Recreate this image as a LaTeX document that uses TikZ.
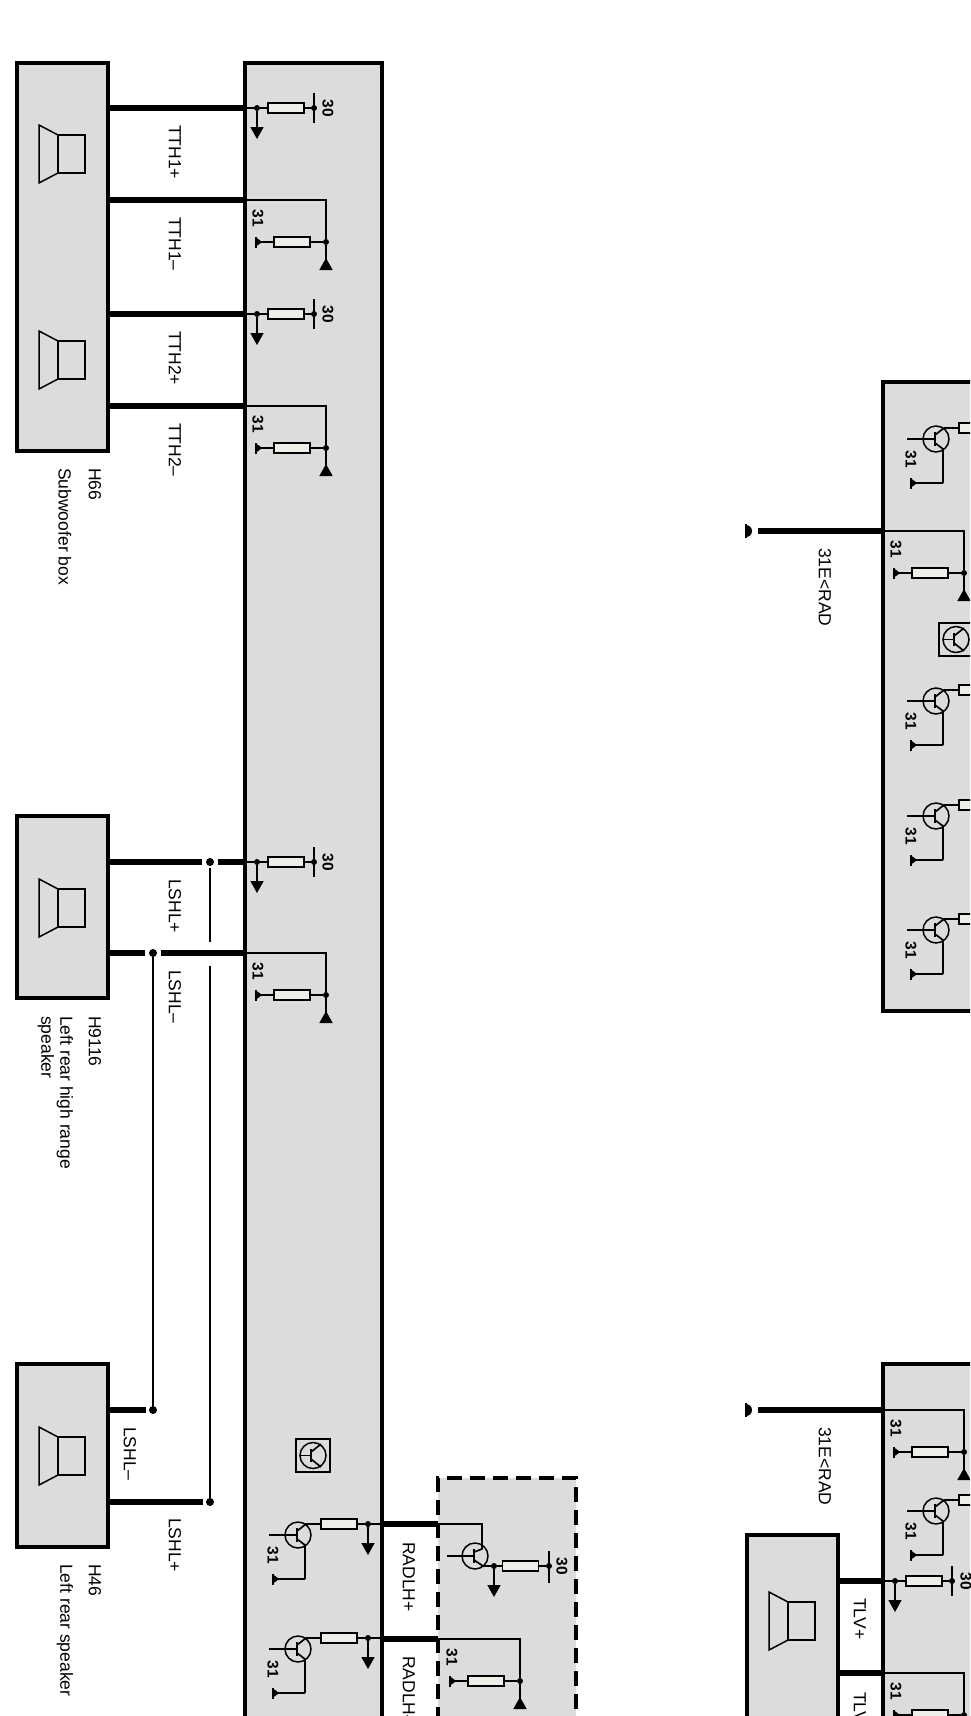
\documentclass[tikz,border=0pt]{standalone}
\usepackage{fontspec}
\setmainfont{Liberation Sans}
\usetikzlibrary{arrows.meta}
\definecolor{panel}{HTML}{DCDCDC}
\definecolor{resfill}{HTML}{EEEEE8}
\tikzset{
  devbox/.style={draw,fill=panel,line width=3.6pt,rectangle,inner sep=0pt,outer sep=0pt,anchor=north west},
  dashbox/.style={devbox,dash pattern=on 15pt off 8pt},
  wire/.style={line width=6.2pt},
  thinw/.style={line width=1.7pt},
  resist/.style={draw,fill=resfill,line width=1.5pt,rectangle,minimum width=36pt,minimum height=10pt,inner sep=0pt,outer sep=0pt},
  dot/.style={circle,fill=black,minimum size=6pt,inner sep=0pt,outer sep=0pt},
  bigdot/.style={circle,fill=black,minimum size=8pt,inner sep=0pt,outer sep=0pt},
  tcirc/.style={circle,draw,line width=1.5pt,minimum size=26pt,inner sep=0pt,outer sep=0pt},
  lbl/.style={rotate=-90,anchor=west,inner sep=0pt,font=\fontsize{17.5}{19}\selectfont},
  pinlbl/.style={rotate=-90,inner sep=0pt,font=\fontsize{15.5}{15.5}\selectfont\bfseries},
  arrdown/.style={thinw,-{Triangle[width=13pt,length=12pt]}},
  arrup/.style={thinw,-{Triangle[width=13pt,length=12pt,reversed]}},
  gndtip/.style={thinw,-{Triangle[length=5pt,width=7pt,reversed]Bar[width=11pt,line width=2.2pt]}}
}
% speaker: name, left of box, centre y
\newcommand{\speaker}[3]{
  \begin{scope}[shift={(#2,#3)}]
    \draw[line width=1.5pt] (22,-29) -- (22,29) -- (41,19) -- (41,-19) -- cycle;
    \draw[line width=1.5pt] (41,-19) rectangle (68,19);
  \end{scope}
}
% plus feed: name, box edge, wire y
\newcommand{\feedpos}[3]{
  \begin{scope}[shift={(#2,#3)}]
    \coordinate (#1a) at (0,0);
    \node[dot] (#1j) at (12,0) {};
    \node[resist] (#1r) at (41,0) {};
    \node[dot] (#1k) at (69,0) {};
    \coordinate (#1t) at (12,31);
    \coordinate (#1u) at (69,-15);
    \coordinate (#1v) at (69,15);
    \draw[thinw] (#1a) -- (#1j) -- (#1r) -- (#1k);
    \draw[arrdown] (#1j) -- (#1t);
    \draw[thinw] (#1u) -- (#1v);
    \node[pinlbl] (#1l) at (83,0) {30};
  \end{scope}
}
% minus feed: name, box edge, wire y
\newcommand{\feedneg}[3]{
  \begin{scope}[shift={(#2,#3)}]
    \coordinate (#1a) at (0,0);
    \coordinate (#1c) at (81,0);
    \node[dot] (#1j) at (81,42) {};
    \node[resist] (#1r) at (47,42) {};
    \coordinate (#1g) at (10,42);
    \coordinate (#1b) at (81,70);
    \draw[thinw] (#1a) -- (#1c) -- (#1j);
    \draw[arrup] (#1j) -- (#1b);
    \draw[thinw] (#1j) -- (#1r);
    \draw[gndtip] (#1r) -- (#1g);
    \node[pinlbl] (#1l) at (13,18) {31};
  \end{scope}
}
% driver transistor: name, centre x, centre y
\newcommand{\trans}[3]{
  \begin{scope}[shift={(#2,#3)}]
    \node[tcirc] (#1o) at (0,0) {};
    \coordinate (#1s) at (-29,0);
    \coordinate (#1m) at (-1,0);
    \coordinate (#1cc) at (8,-11);
    \coordinate (#1e) at (7,10);
    \coordinate (#1f) at (7,44);
    \coordinate (#1g) at (-26,44);
    \node[resist] (#1r) at (41,-11) {};
    \node[dot] (#1j) at (70,-11) {};
    \coordinate (#1a) at (84,-11);
    \coordinate (#1t) at (70,20);
    \draw[thinw] (#1s) -- (#1m);
    \draw[line width=2pt] (-1,-7) -- (-1,7);
    \draw[thinw] (-1,-4) -- (#1cc) -- (#1r) -- (#1j) -- (#1a);
    \draw[thinw] (-1,4) -- (#1e) -- (#1f);
    \draw[gndtip] (#1f) -- (#1g);
    \draw[arrdown] (#1j) -- (#1t);
    \node[pinlbl] (#1l) at (-25,20) {31};
  \end{scope}
}
% chip sign: name, left, top
\newcommand{\chipsign}[3]{
  \begin{scope}[shift={(#2,#3)}]
    \draw[line width=1.8pt] (0,0) rectangle (34,33);
    \node[tcirc] (#1o) at (17,16.5) {};
    \coordinate (#1s) at (4,16.5);
    \coordinate (#1m) at (15,16.5);
    \draw[thinw] (#1s) -- (#1m);
    \draw[line width=2pt] (15,10) -- (15,23);
    \draw[thinw] (15,13) -- (25,5);
    \draw[thinw] (15,20) -- (25,28);
  \end{scope}
}
% loose earth end: name, x, y
\newcommand{\termin}[3]{
  \coordinate (#1) at (#2,#3);
  \draw[line width=2.4pt] (#2,#3-7) -- (#2,#3+7);
  \fill (#2,#3-6) arc[start angle=90,end angle=-90,radius=6pt] -- cycle;
}
\begin{document}
\begin{tikzpicture}[x=1pt,y=-1pt]
\path[use as bounding box,clip] (0,0) rectangle (970,1716);

\node[devbox,minimum width=137pt,minimum height=1700pt] (ctrl) at (245,63) {};
\node[devbox,minimum width=91pt,minimum height=388pt] (h66) at (17,63) {};
\node[devbox,minimum width=91pt,minimum height=182pt] (h9116) at (17,816) {};
\node[devbox,minimum width=91pt,minimum height=183pt] (h46) at (17,1364) {};
\node[dashbox,minimum width=138pt,minimum height=300pt] (amp) at (438,1478) {};
\node[devbox,minimum width=200pt,minimum height=629pt] (ctrlb) at (883,382) {};
\node[devbox,minimum width=200pt,minimum height=500pt] (ctrlc) at (883,1364) {};
\node[devbox,minimum width=91pt,minimum height=300pt] (tlv) at (747,1535) {};

\speaker{s1}{17}{154}
\speaker{s2}{17}{360}
\speaker{s3}{17}{908}
\speaker{s4}{17}{1456}
\speaker{s5}{747}{1621}

% subwoofer lines
\draw[wire] (h66.east |- 0,108) -- (ctrl.west |- 0,108);
\draw[wire] (h66.east |- 0,200) -- (ctrl.west |- 0,200);
\draw[wire] (h66.east |- 0,314) -- (ctrl.west |- 0,314);
\draw[wire] (h66.east |- 0,406) -- (ctrl.west |- 0,406);

% rear speaker lines
\node[bigdot] (d1) at (210,862) {};
\node[bigdot] (d2) at (153,953) {};
\node[bigdot] (d3) at (153,1410) {};
\node[bigdot] (d4) at (210,1502) {};
\coordinate (d1e) at (210,942);
\coordinate (d4e) at (210,966);
\draw[wire,shorten >=4pt] (h9116.east |- 0,862) -- (d1);
\draw[wire,shorten <=4pt] (d1) -- (ctrl.west |- 0,862);
\draw[wire,shorten >=4pt] (h9116.east |- 0,953) -- (d2);
\draw[wire,shorten <=4pt] (d2) -- (ctrl.west |- 0,953);
\draw[wire,shorten >=3pt] (h46.east |- 0,1410) -- (d3);
\draw[wire,shorten >=3pt] (h46.east |- 0,1502) -- (d4);
\draw[thinw,shorten <=2pt] (d1) -- (d1e);
\draw[thinw] (d4e) -- (d4);
\draw[thinw] (d2) -- (d3);

% amp lines
\draw[wire] (ctrl.east |- 0,1524) -- (amp.west |- 0,1524);
\draw[wire] (ctrl.east |- 0,1639) -- (amp.west |- 0,1639);

% earth lines
\termin{e1}{746}{531}
\termin{e2}{746}{1410}
\coordinate (e1b) at (758,531);
\coordinate (e2b) at (758,1410);
\draw[wire] (e1b) -- (ctrlb.west |- e1b);
\draw[wire] (e2b) -- (ctrlc.west |- e2b);

% tlv lines
\draw[wire] (tlv.east |- 0,1581) -- (ctrlc.west |- 0,1581);
\draw[wire] (tlv.east |- 0,1673) -- (ctrlc.west |- 0,1673);

\feedpos{fa}{245}{108}
\feedneg{fb}{245}{200}
\feedpos{fc}{245}{314}
\feedneg{fd}{245}{406}
\feedpos{fe}{245}{862}
\feedneg{ff}{245}{953}
\chipsign{ca}{296}{1439}
\trans{ta}{298}{1535}
\trans{tb}{298}{1649}

% inside the amp
\node[tcirc] (ac) at (475,1556) {};
\coordinate (ac1) at (438,1524);
\coordinate (ac2) at (482,1524);
\coordinate (ac3) at (482,1549);
\coordinate (ac4) at (447,1556);
\coordinate (ac5) at (474,1556);
\coordinate (ac6) at (483,1566);
\node[dot] (aj) at (494,1566) {};
\node[resist] (ar) at (520.5,1566) {};
\node[dot] (ak) at (549,1566) {};
\coordinate (at) at (494,1597);
\coordinate (au) at (549,1551);
\coordinate (av) at (549,1583);
\draw[thinw] (ac1) -- (ac2) -- (ac3) -- (474,1552);
\draw[thinw] (ac4) -- (ac5);
\draw[line width=2pt] (474,1549) -- (474,1563);
\draw[thinw] (474,1560) -- (ac6) -- (aj) -- (ar) -- (ak);
\draw[arrdown] (aj) -- (at);
\draw[thinw] (au) -- (av);
\node[pinlbl] (al) at (562,1566) {30};
\feedneg{fg}{439}{1639}

% right hand part
\trans{tc}{936}{439}
\feedneg{fh}{883}{531}
\chipsign{cb}{939}{623}
\trans{td}{936}{701}
\trans{te}{936}{816}
\trans{tf}{936}{930}
\feedneg{fi}{883}{1410}
\trans{tg}{936}{1511}
\feedpos{fj}{883}{1581}
\feedneg{fk}{883}{1673}

% labels
\node[lbl] (l1) at (175,125) {TTH1+};
\node[lbl] (l2) at (175,217) {TTH1–};
\node[lbl] (l3) at (175,331) {TTH2+};
\node[lbl] (l4) at (175,423) {TTH2–};
\node[lbl] (l5) at (175,879) {LSHL+};
\node[lbl] (l6) at (175,970) {LSHL–};
\node[lbl] (l7) at (130,1427) {LSHL–};
\node[lbl] (l8) at (175,1518) {LSHL+};
\node[lbl] (l9) at (409,1542) {RADLH+};
\node[lbl] (l10) at (409,1656) {RADLH–};
\node[lbl] (l11) at (825,548) {31E<RAD};
\node[lbl] (l12) at (825,1427) {31E<RAD};
\node[lbl] (l13) at (860,1598) {TLV+};
\node[lbl] (l14) at (860,1692) {TLV–};
\node[lbl] (n1) at (95,468) {H66};
\node[lbl] (n2) at (65,468) {Subwoofer box};
\node[lbl] (n3) at (95,1016) {H9116};
\node[lbl] (n4) at (65,1016) {Left rear high range};
\node[lbl] (n5) at (46,1016) {speaker};
\node[lbl] (n6) at (95,1564) {H46};
\node[lbl] (n7) at (65,1564) {Left rear speaker};
\end{tikzpicture}
\end{document}
